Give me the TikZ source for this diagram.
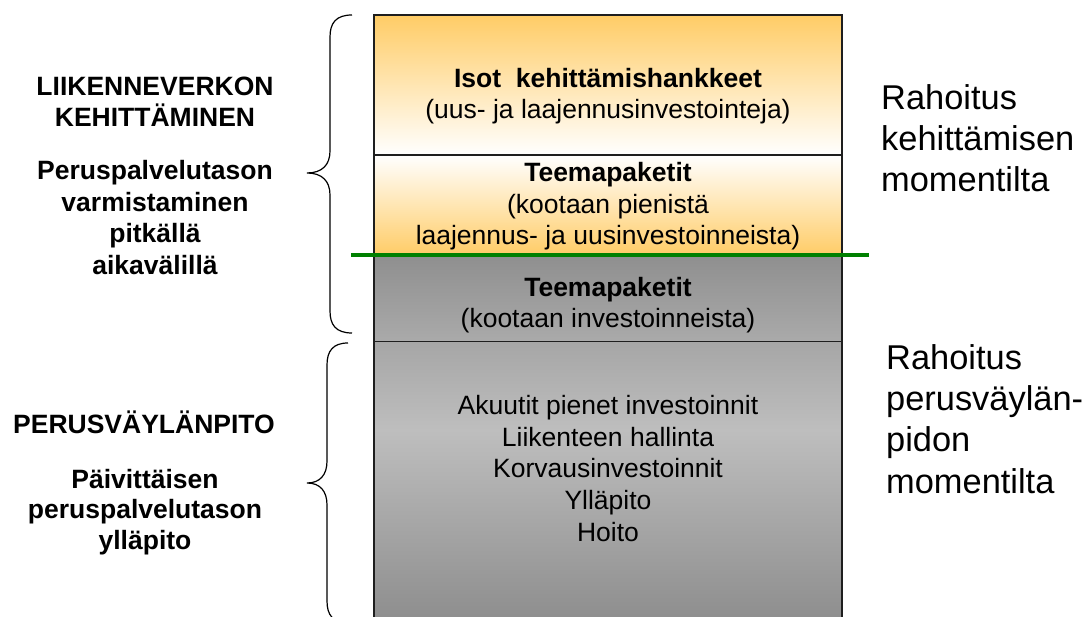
\documentclass[tikz,border=0pt]{standalone}
\usepackage{fontspec}
\setmainfont{Liberation Sans}
\definecolor{sunorange}{RGB}{255,204,102}
\definecolor{bandgreen}{RGB}{0,128,0}
\definecolor{greyA}{RGB}{143,143,143}
\definecolor{greyB}{RGB}{170,170,170}
\definecolor{greyC}{RGB}{166,166,166}
\definecolor{greyD}{RGB}{190,190,190}
\definecolor{greyE}{RGB}{140,140,140}
\definecolor{rulegrey}{RGB}{30,30,30}
\begin{document}
\begin{tikzpicture}[x=1pt,y=1pt,
  boxtext/.style={align=center,inner sep=0pt,font=\fontsize{26.5}{31.5}\selectfont},
  sidehead/.style={align=center,inner sep=0pt,font=\fontsize{26.5}{30.5}\selectfont\bfseries},
  fundtext/.style={align=left,anchor=west,inner sep=0pt,font=\fontsize{34.4}{41.2}\selectfont},
  rule/.style={draw=rulegrey,line width=1.4pt},
  bracepen/.style={draw=black,line width=1.2pt}]
\useasboundingbox (0,0) rectangle (1084,617);
\clip (0,0) rectangle (1084,617);

% stacked budget column
\shade[top color=sunorange,bottom color=white] (374,462) rectangle (842,602);
\shade[top color=white,bottom color=sunorange] (374,361.5) rectangle (842,462);
\shade[top color=greyA,bottom color=greyB] (374,275.5) rectangle (842,361.5);
\shade[top color=greyC,bottom color=greyD] (374,187) rectangle (842,275.5);
\shade[top color=greyD,bottom color=greyE] (374,-10) rectangle (842,187);

\draw[rule] (374,-10) -- (374,602) -- (842,602) -- (842,-10);
\draw[rule] (374,462) -- (842,462);
\draw[rule] (374,275.5) -- (842,275.5);

% boundary between the two funding sources
\coordinate (gL) at (351,361.5);
\coordinate (gR) at (869,361.5);
\draw[bandgreen,line width=4pt] (gL) -- (gR);

% texts inside the column
\node[boxtext] (isot) at (608,521) {\textbf{Isot\ \ kehittämishankkeet}\\(uus- ja laajennusinvestointeja)};
\node[boxtext] (teema1) at (608,410.5) {\textbf{Teemapaketit}\\(kootaan pienistä\\laajennus- ja uusinvestoinneista)};
\node[boxtext] (teema2) at (608,312) {\textbf{Teemapaketit}\\(kootaan investoinneista)};
\node[boxtext,font=\fontsize{26.5}{31.75}\selectfont] (perus) at (608,148.5) {Akuutit pienet investoinnit\\Liikenteen hallinta\\Korvausinvestoinnit\\Ylläpito\\Hoito};

% left-hand headings
\node[sidehead] (kehit) at (155,515) {LIIKENNEVERKON\\KEHITTÄMINEN};
\node[sidehead,font=\fontsize{26.5}{31.7}\selectfont\bfseries] (varm) at (155,399.5) {Peruspalvelutason\\varmistaminen\\pitkällä\\aikavälillä};
\node[sidehead] (pvp) at (144,195) {PERUSVÄYLÄNPITO};
\node[sidehead] (paiv) at (145,105) {Päivittäisen\\peruspalvelutason\\ylläpito};

% right-hand funding notes
\node[fundtext] (rahk) at (881,479) {Rahoitus\\kehittämisen\\momentilta};
\node[fundtext] (rahp) at (886,198) {Rahoitus\\perusväylän-\\pidon\\momentilta};

% curly braces
\draw[bracepen] (352,602) .. controls (336,602) and (330,594) .. (330,580)
  -- (330,466) .. controls (330,452) and (322,444) .. (307,444)
  .. controls (322,444) and (330,436) .. (330,422)
  -- (330,306) .. controls (330,292) and (336,284) .. (352,284);
\draw[bracepen] (348,274) .. controls (333,274) and (327,266) .. (327,252)
  -- (327,156) .. controls (327,142) and (320,134) .. (307,134)
  .. controls (320,134) and (327,126) .. (327,112)
  -- (327,16) .. controls (327,2) and (333,-6) .. (348,-6);
\end{tikzpicture}
\end{document}
